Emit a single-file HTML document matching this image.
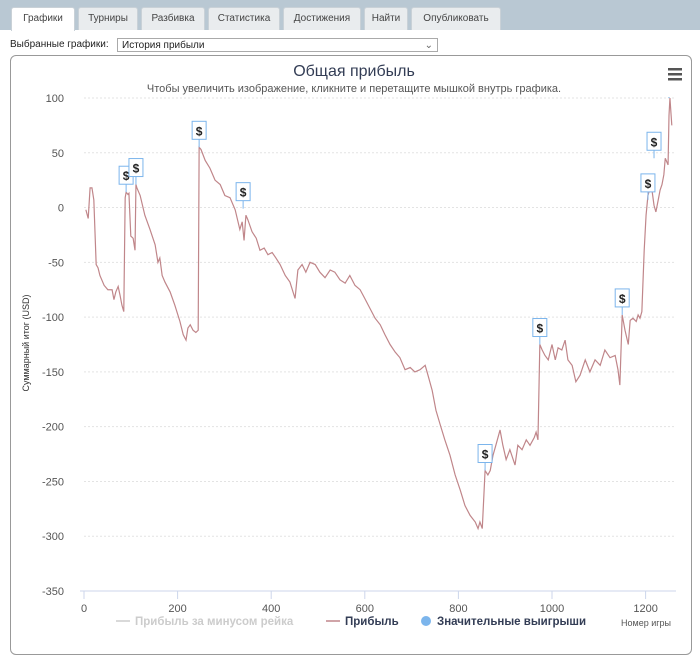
<!DOCTYPE html>
<html><head><meta charset="utf-8">
<style>
body{margin:0;width:700px;height:643px;overflow:hidden;background:#fff;font-family:"Liberation Sans","DejaVu Sans",sans-serif;position:relative}
.top{position:absolute;left:0;top:0;width:700px;height:30px;background:#b9c8d3}
.tab{position:absolute;top:7px;height:23px;background:#e9ecee;border:1px solid #c9d1d7;border-bottom:none;border-radius:3px 3px 0 0;font-size:10px;color:#444;line-height:22px;text-align:center;box-sizing:border-box}
.tab.act{background:#fff;height:24px}
.lbl{position:absolute;left:10px;top:39px;font-size:10px;color:#222}
.sel{position:absolute;left:117px;top:38px;width:321px;height:14px;border:1px solid #aaa;font-size:10px;line-height:14px;padding-left:4px;box-sizing:border-box;color:#222}
.frame{position:absolute;left:10px;top:55px;width:682px;height:600px;border:1px solid #999;border-radius:6px;box-sizing:border-box}
</style></head><body>
<div class="top"></div>
<div class="tab act" style="left:11px;width:64px">Графики</div>
<div class="tab" style="left:78px;width:60px">Турниры</div>
<div class="tab" style="left:141px;width:64px">Разбивка</div>
<div class="tab" style="left:208px;width:72px">Статистика</div>
<div class="tab" style="left:283px;width:78px">Достижения</div>
<div class="tab" style="left:364px;width:44px">Найти</div>
<div class="tab" style="left:411px;width:90px">Опубликовать</div>
<div class="lbl">Выбранные графики:</div>
<div class="sel">История прибыли<span style="position:absolute;right:4px;top:0;color:#666">&#8964;</span></div>
<div class="frame"></div>
<svg id="ch" width="700" height="643" style="position:absolute;left:0;top:0"></svg>
<script>
const games=[4,9,13,17,21,26,30,34,43,51,60,64,68,73,77,81,85,88,90,94,96,100,105,109,111,113,120,130,141,152,158,162,167,173,184,194,205,212,218,222,227,233,239,244,246,250,259,269,280,291,301,312,323,333,338,342,346,350,359,368,376,385,393,402,410,419,430,440,451,457,466,474,483,494,504,515,526,536,547,558,568,579,590,600,611,622,633,643,654,665,675,686,697,707,718,729,735,744,752,761,771,782,793,804,814,825,836,842,846,851,857,863,868,874,880,889,895,902,910,921,927,936,945,953,962,966,970,974,979,985,992,1000,1007,1013,1021,1028,1034,1043,1051,1060,1071,1081,1092,1103,1113,1124,1135,1141,1145,1150,1156,1163,1167,1173,1180,1184,1188,1192,1197,1201,1205,1212,1218,1222,1227,1231,1235,1239,1242,1248,1250,1252,1256];
const profit=[-2,-10,18,18,7,-52,-55,-62,-71,-75,-75,-84,-77,-72,-80,-89,-95,9,14,12,13,-26,-28,-39,21,18,11,-7,-20,-34,-50,-46,-62,-68,-77,-89,-104,-116,-121,-110,-107,-112,-114,-112,55,53,43,36,25,21,11,9,-2,-20,-13,-30,-7,-11,-22,-28,-39,-37,-43,-41,-46,-52,-62,-68,-83,-57,-52,-59,-50,-52,-59,-64,-57,-59,-66,-69,-62,-71,-75,-83,-92,-101,-107,-116,-125,-132,-137,-148,-146,-150,-148,-144,-153,-167,-185,-198,-212,-226,-244,-258,-272,-281,-287,-293,-287,-293,-240,-244,-240,-226,-217,-203,-217,-230,-221,-235,-217,-221,-212,-217,-210,-205,-212,-125,-130,-135,-139,-125,-139,-128,-130,-121,-139,-144,-159,-153,-139,-150,-139,-144,-130,-137,-135,-148,-162,-98,-112,-125,-103,-101,-104,-98,-101,-95,-39,-7,11,21,2,-4,7,16,21,30,45,39,84,100,75];
const bigWinGames=[90,111,246,340,857,974,1150,1205,1218,1250];
const bigWinValues=[14,21,55,-1,-240,-125,-98,7,45,100];
const yTicks=[100,50,0,-50,-100,-150,-200,-250,-300,-350];
const xTicks=[0,200,400,600,800,1000,1200];
const NS='http://www.w3.org/2000/svg';
const svg=document.getElementById('ch');
const X=g=>84+g*0.468, Y=v=>98+(100-v)*1.0956;
function mk(t,a,p){const e=document.createElementNS(NS,t);for(const k in a)e.setAttribute(k,a[k]);(p||svg).appendChild(e);return e;}
const defs=mk('defs',{});
const cp=mk('clipPath',{id:'pc'},defs);
mk('rect',{x:70,y:97,width:620,height:500},cp);
yTicks.forEach(v=>{
  if(v>-350){const l=mk('line',{x1:84,x2:676,y1:Y(v),y2:Y(v),stroke:'#e3e3e3','stroke-dasharray':'2,2'});
  
  }
  const t=mk('text',{x:64,y:Y(v)+4,'text-anchor':'end','font-size':11,fill:'#555'});t.textContent=v;
  
  
});
const ax=mk('line',{x1:80,x2:676,y1:Y(-350),y2:Y(-350),stroke:'#ccd6eb'});


xTicks.forEach(g=>{
  const tk=mk('line',{x1:X(g),x2:X(g),y1:Y(-350),y2:Y(-350)+8,stroke:'#ccd6eb'});
  
  
  const t=mk('text',{x:X(g),y:612,'text-anchor':'middle','font-size':11,fill:'#555'});t.textContent=g;
  
  
});
const plotG=mk('g',{'clip-path':'url(#pc)'});
const pl=mk('polyline',{points:games.map((g,i)=>X(g)+','+Y(profit[i])).join(' '),fill:'none',stroke:'#c0868a','stroke-width':1.2},plotG);


bigWinGames.forEach((g,i)=>{
  const x=X(g),y=Y(bigWinValues[i]);
  const grp=mk('g',{},plotG);
  
  
  mk('line',{x1:x,x2:x,y1:y,y2:y-8,stroke:'#7cb5ec'},grp);
  mk('rect',{x:x-7,y:y-26,width:14,height:18,fill:'#fff',stroke:'#7cb5ec'},grp);
  const t=mk('text',{x:x,y:y-12,'text-anchor':'middle','font-size':12,'font-weight':'bold',fill:'#222'},grp);t.textContent='$';
});
function txt(s,a,name){const t=mk('text',a);t.textContent=s;return t;}
txt('Общая прибыль',{x:354,y:76,'text-anchor':'middle','font-size':16,fill:'#333d55'},'chart-title');
txt('Чтобы увеличить изображение, кликните и перетащите мышкой внутрь графика.',{x:354,y:92,'text-anchor':'middle','font-size':11,fill:'#555'},'chart-subtitle');
txt('Суммарный итог (USD)',{x:0,y:0,'text-anchor':'middle','font-size':9,fill:'#333',transform:'translate(29,343) rotate(-90)'},'y-axis-title');
txt('Номер игры',{x:646,y:626,'text-anchor':'middle','font-size':9,fill:'#555'},'x-axis-title');
const menu=mk('g',{});


[68,73,78].forEach(y=>mk('rect',{x:668,y:y,width:14,height:2.5,fill:'#555'},menu));
const lg=[['Прибыль за минусом рейка',116,'#ccc','line'],['Прибыль',326,'#c0868a','line'],['Значительные выигрыши',422,'#7cb5ec','dot']];
lg.forEach(([s,x,c,k])=>{
  const grp=mk('g',{});
  
  
  if(k==='line')mk('line',{x1:x,x2:x+14,y1:621,y2:621,stroke:c,'stroke-width':1.5},grp);
  else mk('circle',{cx:x+4,cy:621,r:5,fill:c},grp);
  const t=mk('text',{x:x+(k==='line'?19:15),y:625,'font-size':11.5,'font-weight':'bold',fill:k==='line'&&x<200?'#ccc':'#333d55'},grp);t.textContent=s;
});
</script>
</body></html>
